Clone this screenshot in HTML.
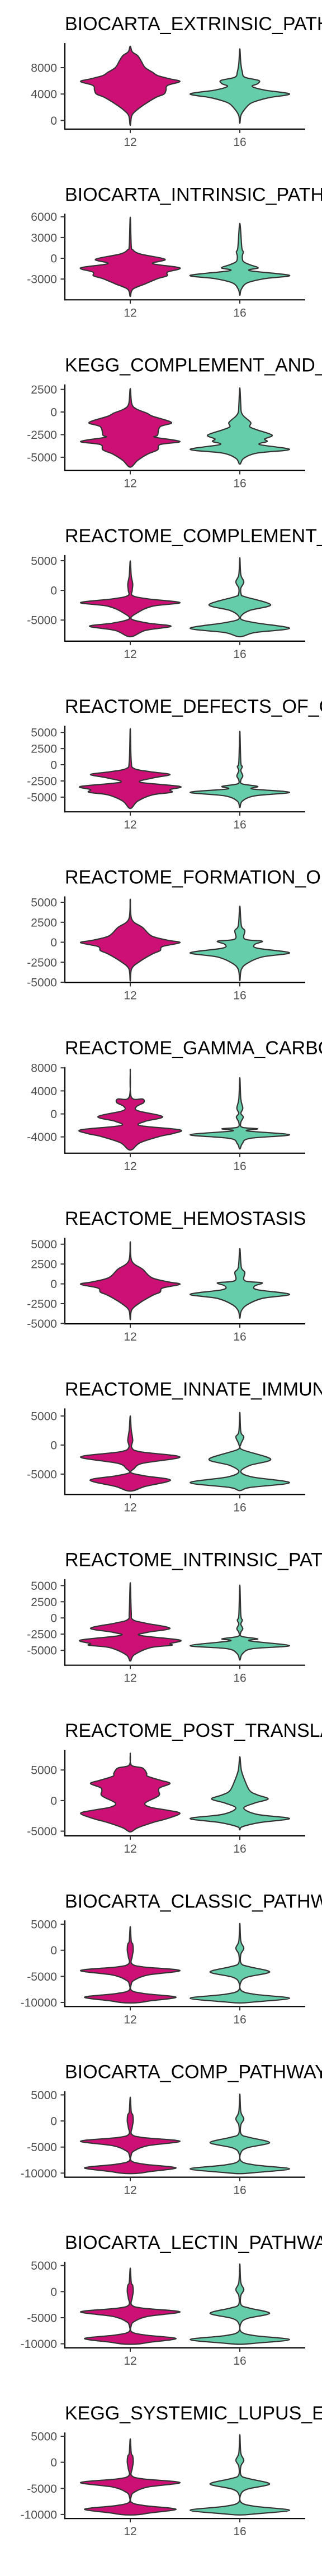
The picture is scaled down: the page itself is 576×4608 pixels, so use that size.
<!DOCTYPE html>
<html><head><meta charset="utf-8"><style>
html,body{margin:0;padding:0;background:#fff;}
svg{display:block;}
</style></head><body>
<svg id="chart" width="576" height="4608" viewBox="0 0 576 4608" xmlns="http://www.w3.org/2000/svg"></svg>
<script>
const titles=["BIOCARTA_EXTRINSIC_PATHWAY","BIOCARTA_INTRINSIC_PATHWAY","KEGG_COMPLEMENT_AND_COAGULATION_CASCADES","REACTOME_COMPLEMENT_CASCADE","REACTOME_DEFECTS_OF_GAMMA_CARBOXYLATION","REACTOME_FORMATION_OF_FIBRIN_CLOT","REACTOME_GAMMA_CARBOXYLATION","REACTOME_HEMOSTASIS","REACTOME_INNATE_IMMUNE_SYSTEM","REACTOME_INTRINSIC_PATHWAY_OF_FIBRIN_CLOT","REACTOME_POST_TRANSLATIONAL_PROTEIN_MODIFICATION","BIOCARTA_CLASSIC_PATHWAY","BIOCARTA_COMP_PATHWAY","BIOCARTA_LECTIN_PATHWAY","KEGG_SYSTEMIC_LUPUS_ERYTHEMATOSUS"];
const categories=["12","16"];
const yLo=[-1311,-6000,-6467,-8547,-7275,-5030,-6822,-5050,-8516,-7292,-5770,-10783,-10783,-10783,-10783];
const yHi=[11721,6437,3057,5953,6038,5733,8136,5820,6300,6004,8315,5730,5730,5730,5730];
const yTicks=[[0,4000,8000],[-3000,0,3000,6000],[-5000,-2500,0,2500],[-5000,0,5000],[-5000,-2500,0,2500,5000],[-5000,-2500,0,2500,5000],[-4000,0,4000,8000],[-5000,-2500,0,2500,5000],[-5000,0,5000],[-5000,-2500,0,2500,5000],[-5000,0,5000],[-10000,-5000,0,5000],[-10000,-5000,0,5000],[-10000,-5000,0,5000],[-10000,-5000,0,5000]];
const profiles12=[
[[11240,0],[10400,0.04],[9800,0.15],[9000,0.22],[8000,0.3],[7300,0.45],[6800,0.55],[6300,0.8],[5900,1],[5300,0.75],[4600,0.72],[4000,0.68],[3500,0.52],[2500,0.3],[1500,0.12],[700,0.03],[-750,0]],
[[5930,0],[1850,0.02],[1240,0.05],[620,0.2],[-150,0.7],[-770,0.45],[-1390,1],[-2000,0.75],[-2530,0.74],[-2940,0.55],[-3700,0.3],[-4480,0.05],[-5500,0]],
[[2600,0],[930,0.03],[350,0.12],[-116,0.33],[-465,0.45],[-1160,0.83],[-1630,0.6],[-2560,0.55],[-2790,0.5],[-3260,1],[-3600,0.6],[-4190,0.55],[-4650,0.35],[-5350,0.15],[-6100,0]],
[[4970,0],[2490,0.02],[1070,0.05],[0,0.04],[-890,0.05],[-1420,0.35],[-2060,1],[-2660,0.45],[-3730,0.15],[-4790,0.02],[-5500,0.35],[-6040,0.82],[-6750,0.3],[-7810,0]],
[[5590,0],[550,0.02],[-585,0.08],[-1070,0.4],[-1500,0.8],[-2050,0.45],[-2700,0.2],[-3350,1],[-3840,0.8],[-4260,0.83],[-4650,0.45],[-5620,0.15],[-6760,0]],
[[5390,0],[2890,0.03],[1840,0.25],[790,0.43],[260,0.75],[-50,1],[-530,0.65],[-1050,0.6],[-1450,0.45],[-2370,0.2],[-3290,0.03],[-4850,0]],
[[7770,0],[2960,0.02],[2590,0.25],[1960,0.27],[1300,0.13],[555,0.15],[-480,0.65],[-1300,0.3],[-2035,0.2],[-2775,1],[-3440,0.85],[-3890,0.6],[-5000,0.2],[-6300,0]],
[[5310,0],[2900,0.03],[1840,0.25],[790,0.43],[260,0.75],[-50,1],[-530,0.65],[-1050,0.6],[-1450,0.45],[-2370,0.2],[-3290,0.03],[-4520,0]],
[[5000,0],[2640,0.02],[830,0.05],[-430,0.03],[-1160,0.2],[-2060,1],[-3150,0.25],[-4050,0.08],[-4780,0.02],[-5320,0.3],[-6050,0.81],[-7130,0.3],[-7930,0]],
[[5450,0],[950,0.02],[-250,0.05],[-790,0.3],[-1590,0.8],[-2220,0.35],[-2700,0.2],[-3420,1],[-3960,0.8],[-4220,0.83],[-4600,0.4],[-5700,0.08],[-6660,0]],
[[7750,0],[5830,0.02],[5320,0.25],[4480,0.33],[3980,0.35],[3300,0.62],[2800,0.8],[2120,0.6],[1620,0.57],[780,0.57],[-400,0.3],[-1080,0.4],[-1580,0.75],[-2090,1],[-2930,0.75],[-3600,0.45],[-4450,0.15],[-5120,0]],
[[4550,0],[1780,0.02],[1190,0.05],[0,0.06],[-1190,0.04],[-2570,0.03],[-3170,0.25],[-3880,1],[-4750,0.35],[-5740,0.08],[-6530,0.02],[-7720,0.03],[-8320,0.3],[-8990,0.92],[-9700,0.4],[-10000,0.2],[-10100,0]],
[[4550,0],[1780,0.02],[1190,0.05],[0,0.06],[-1190,0.04],[-2570,0.03],[-3170,0.25],[-3880,1],[-4750,0.35],[-5740,0.08],[-6530,0.02],[-7720,0.03],[-8320,0.3],[-8990,0.92],[-9700,0.4],[-10000,0.2],[-10100,0]],
[[4500,0],[1780,0.02],[1190,0.05],[0,0.06],[-1190,0.04],[-2570,0.03],[-3170,0.25],[-3880,1],[-4750,0.35],[-5740,0.08],[-6530,0.02],[-7720,0.03],[-8320,0.3],[-8990,0.92],[-9700,0.4],[-10000,0.2],[-10100,0]],
[[4500,0],[1780,0.02],[1190,0.05],[0,0.06],[-1190,0.04],[-2570,0.03],[-3170,0.25],[-3880,1],[-4750,0.35],[-5740,0.08],[-6530,0.02],[-7720,0.03],[-8320,0.3],[-8990,0.92],[-9700,0.4],[-10000,0.2],[-10100,0]]
];
const profiles16=[
[[10850,0],[8650,0.02],[7350,0.05],[6550,0.1],[6060,0.38],[5570,0.36],[5150,0.25],[4600,0.5],[4020,1],[3470,0.6],[2980,0.35],[2500,0.2],[1520,0.08],[710,0.02],[-420,0]],
[[5040,0],[1545,0.04],[930,0.07],[310,0.05],[-460,0.07],[-930,0.2],[-1390,0.37],[-1790,0.2],[-2470,1],[-2940,0.5],[-3550,0.15],[-4480,0.03],[-5350,0]],
[[2670,0],[700,0.02],[0,0.03],[-465,0.08],[-1160,0.22],[-1630,0.2],[-1980,0.35],[-2560,0.65],[-2980,0.5],[-3260,0.55],[-3600,0.4],[-4140,1],[-4540,0.35],[-5120,0.08],[-5770,0]],
[[5500,0],[2660,0.02],[1420,0.08],[355,0.02],[-710,0.03],[-1060,0.1],[-2410,0.62],[-3370,0.2],[-4260,0.03],[-4970,0.05],[-5500,0.35],[-6390,1],[-7100,0.3],[-7810,0]],
[[5170,0],[390,0.02],[-260,0.05],[-910,0.02],[-1720,0.06],[-2370,0.02],[-2960,0.05],[-3350,0.36],[-3740,0.25],[-4260,1],[-4810,0.3],[-5620,0.05],[-6600,0]],
[[4520,0],[2100,0.03],[1450,0.1],[400,0.1],[130,0.45],[-260,0.3],[-740,0.35],[-1320,1],[-1840,0.45],[-2630,0.15],[-3420,0.03],[-4800,0]],
[[6290,0],[2590,0.02],[1000,0.06],[110,0.02],[-555,0.07],[-1480,0.02],[-2330,0.05],[-2590,0.36],[-2960,0.15],[-3630,1],[-4260,0.2],[-5180,0.05],[-6100,0]],
[[4470,0],[2100,0.03],[1450,0.1],[400,0.1],[130,0.45],[-260,0.3],[-740,0.35],[-1320,1],[-1840,0.45],[-2630,0.15],[-3420,0.03],[-4330,0]],
[[5610,0],[2280,0.02],[1380,0.08],[110,0.02],[-800,0.05],[-2430,0.62],[-3510,0.2],[-4600,0.02],[-5500,0.25],[-6480,1],[-7310,0.2],[-7850,0]],
[[5070,0],[475,0.02],[-320,0.05],[-950,0.02],[-1650,0.06],[-2220,0.02],[-2850,0.04],[-3230,0.36],[-3550,0.2],[-4280,1],[-4750,0.25],[-5550,0.05],[-6500,0]],
[[7180,0],[4990,0.03],[3300,0.1],[1620,0.2],[940,0.35],[270,0.57],[-400,0.3],[-1250,0.08],[-2260,0.35],[-2930,1],[-3600,0.4],[-4280,0.05],[-4790,0]],
[[5150,0],[1780,0.02],[400,0.08],[-790,0.02],[-2570,0.03],[-3170,0.2],[-4160,0.6],[-5150,0.15],[-6140,0.02],[-7720,0.03],[-8440,0.3],[-9190,1],[-9900,0.3],[-10100,0]],
[[5150,0],[1780,0.02],[400,0.08],[-790,0.02],[-2570,0.03],[-3170,0.2],[-4160,0.6],[-5150,0.15],[-6140,0.02],[-7720,0.03],[-8440,0.3],[-9190,1],[-9900,0.3],[-10100,0]],
[[5300,0],[1780,0.02],[400,0.08],[-790,0.02],[-2570,0.03],[-3170,0.2],[-4160,0.6],[-5150,0.15],[-6140,0.02],[-7720,0.03],[-8440,0.3],[-9190,1],[-9900,0.3],[-10100,0]],
[[5300,0],[1780,0.02],[400,0.08],[-790,0.02],[-2570,0.03],[-3170,0.2],[-4160,0.6],[-5150,0.15],[-6140,0.02],[-7720,0.03],[-8440,0.3],[-9190,1],[-9900,0.3],[-10100,0]]
];
const fills=["#CD1076","#66CDAA"];

const NS="http://www.w3.org/2000/svg";
const svg=document.getElementById("chart");
const X_AXIS=116, X_END=546, PLOT_H=154, HALF=88.9;
function axisY(k){return 231+305.3*k;}
function xScale(i){return 233+196*i;}
function yScale(k,v){return axisY(k)-(v-yLo[k])/(yHi[k]-yLo[k])*PLOT_H;}
function mk(tag,attrs,parent){const e=document.createElementNS(NS,tag);for(const a in attrs)e.setAttribute(a,attrs[a]);(parent||svg).appendChild(e);return e;}
function smoothClosed(pts){
  const n=pts.length;let d="M"+pts[0][0].toFixed(2)+","+pts[0][1].toFixed(2);
  for(let i=0;i<n;i++){
    const p0=pts[(i-1+n)%n],p1=pts[i],p2=pts[(i+1)%n],p3=pts[(i+2)%n];
    const c1x=p1[0]+(p2[0]-p0[0])/6,c1y=p1[1]+(p2[1]-p0[1])/6;
    const c2x=p2[0]-(p3[0]-p1[0])/6,c2y=p2[1]-(p3[1]-p1[1])/6;
    d+="C"+c1x.toFixed(2)+","+c1y.toFixed(2)+" "+c2x.toFixed(2)+","+c2y.toFixed(2)+" "+p2[0].toFixed(2)+","+p2[1].toFixed(2);
  }
  return d+"Z";
}
function violinPath(k,i,prof){
  const c=xScale(i);const right=[],left=[];
  prof.forEach(p=>{right.push([c+p[1]*HALF,yScale(k,p[0])]);});
  for(let j=prof.length-2;j>=1;j--){left.push([c-prof[j][1]*HALF,yScale(k,prof[j][0])]);}
  return smoothClosed(right.concat(left));
}
for(let k=0;k<titles.length;k++){
  const g=mk("g",{});
  
  
  const Y0=axisY(k);
  const t=mk("text",{x:X_AXIS,y:(Y0-177).toFixed(1),"font-family":"Liberation Sans, sans-serif","font-size":"34",fill:"#000"},g);
  t.textContent=titles[k];
  
  
  [profiles12[k],profiles16[k]].forEach((prof,i)=>{
    const p=mk("path",{d:violinPath(k,i,prof),fill:fills[i],stroke:"#333333","stroke-width":"2.2","stroke-linejoin":"round"},g);
    
    
  });
  const ya=mk("line",{x1:X_AXIS,y1:(Y0-PLOT_H).toFixed(1),x2:X_AXIS,y2:(Y0+1).toFixed(1),stroke:"#000","stroke-width":"2.2"},g);
  
  
  const xa=mk("line",{x1:X_AXIS-1,y1:Y0,x2:X_END,y2:Y0,stroke:"#000","stroke-width":"2.2"},g);
  
  
  yTicks[k].forEach(v=>{
    const y=yScale(k,v);
    const tm=mk("line",{x1:108.5,y1:y.toFixed(1),x2:X_AXIS,y2:y.toFixed(1),stroke:"#333","stroke-width":"2"},g);
    
    
    const tl=mk("text",{x:102,y:(y+7.5).toFixed(1),"text-anchor":"end","font-family":"Liberation Sans, sans-serif","font-size":"21",fill:"#4D4D4D"},g);
    tl.textContent=String(v);
    
    
  });
  categories.forEach((c,i)=>{
    const x=xScale(i);
    const tm=mk("line",{x1:x,y1:Y0,x2:x,y2:Y0+7,stroke:"#333","stroke-width":"2"},g);
    
    
    const tl=mk("text",{x:x,y:(Y0+30).toFixed(1),"text-anchor":"middle","font-family":"Liberation Sans, sans-serif","font-size":"21",fill:"#4D4D4D"},g);
    tl.textContent=c;
    
    
  });
}
</script>
</body></html>
